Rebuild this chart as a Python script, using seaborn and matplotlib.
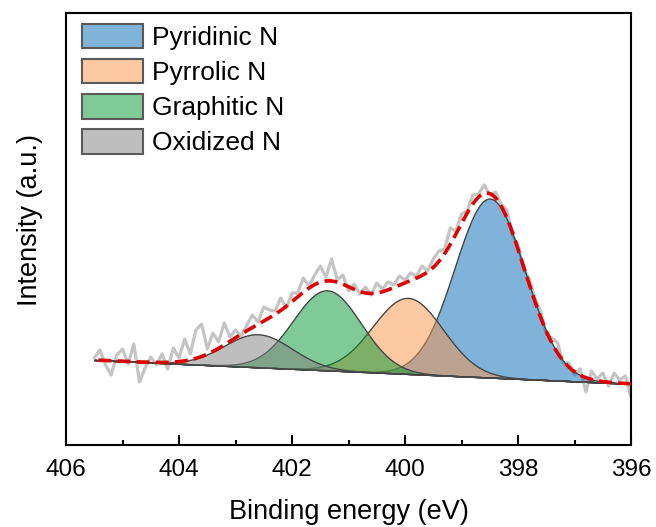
import numpy as np
import pandas as pd
import matplotlib
matplotlib.use("Agg")
import matplotlib.pyplot as plt
from matplotlib.colors import to_rgba
from matplotlib.patches import Patch
from matplotlib.ticker import MultipleLocator
import seaborn as sns

# N 1s spectrum, 0.1 eV steps from 405.5 down to 396.0 eV (a.u.)
energy_start, energy_stop, energy_step = 405.5, 396.0, 0.1
raw_counts = [
    87, 95, 80, 70, 90, 96, 81, 101, 63, 77,
    88, 80, 91, 76, 97, 87, 106, 91, 115, 121,
    96, 112, 103, 122, 108, 115, 109, 120, 130, 123,
    138, 135, 134, 147, 137, 152, 152, 167, 159, 170,
    179, 168, 186, 165, 170, 154, 161, 151, 158, 150,
    162, 156, 163, 160, 169, 165, 172, 169, 179, 174,
    186, 194, 196, 217, 214, 231, 234, 250, 251, 260,
    250, 253, 241, 235, 210, 200, 176, 166, 146, 134,
    111, 107, 102, 82, 82, 70, 76, 53, 74, 66,
    72, 59, 72, 65, 69, 48,
]

# Fitted components (Gaussian): centre (eV), height, FWHM (eV)
peak_names = ["Pyridinic N", "Pyrrolic N", "Graphitic N", "Oxidized N"]
peak_centers = [398.5, 399.95, 401.38, 402.6]
peak_heights = [179, 76, 80, 33]
peak_fwhm = [1.46, 1.46, 1.41, 1.41]
peak_colors = ["#0069b5", "#fb9547", "#009731", "#7f7f7f"]

# Linear background at the two ends of the fit window
background_ends = [85.0, 61.2]

n_points = int(round((energy_start - energy_stop) / energy_step)) + 1
energy = np.round(np.linspace(energy_start, energy_stop, n_points), 2)
spectrum = pd.DataFrame({"energy": energy, "counts": raw_counts})

fine = np.linspace(energy_start, energy_stop, 600)
background = np.interp(fine, [energy_stop, energy_start], background_ends[::-1])
components = []
for c, h, w in zip(peak_centers, peak_heights, peak_fwhm):
    sigma = w / (2.0 * np.sqrt(2.0 * np.log(2.0)))
    components.append(h * np.exp(-0.5 * ((fine - c) / sigma) ** 2))
envelope = background + np.sum(components, axis=0)
fit = pd.DataFrame({"energy": fine, "envelope": envelope})

sns.set_theme(style="ticks")
plt.rcParams["font.family"] = ["Liberation Sans", "Arial", "DejaVu Sans"]
plt.rcParams["text.color"] = "black"
plt.rcParams["axes.labelcolor"] = "black"
plt.rcParams["xtick.color"] = "black"
plt.rcParams["ytick.color"] = "black"

fig, ax = plt.subplots(figsize=(6.56, 5.27), dpi=100)
fig.subplots_adjust(left=0.1006, right=0.962, bottom=0.1556, top=0.9753)

sns.lineplot(data=spectrum, x="energy", y="counts", ax=ax, color="#c4c4c4",
             lw=2.3, estimator=None, zorder=1)

edge = (0.28, 0.28, 0.28, 1.0)
for comp, col in zip(components, peak_colors):
    ax.fill_between(fine, background, background + comp,
                    facecolor=to_rgba(col, 0.5), edgecolor=edge,
                    linewidth=1.0, zorder=2)

sns.lineplot(data=fit, x="energy", y="envelope", ax=ax, color="#e00000",
             lw=2.6, linestyle=(0, (3.6, 1.7)), estimator=None, zorder=3)

ax.set_xlim(406, 396)
ax.set_ylim(0, 432)
ax.set_xticks([406, 404, 402, 400, 398, 396])
ax.xaxis.set_minor_locator(MultipleLocator(1))
ax.set_yticks([])
ax.tick_params(axis="x", which="major", direction="in", length=7.5,
               width=1.5, labelsize=17.5, pad=10, top=False,
               color="black", labelcolor="black")
ax.tick_params(axis="x", which="minor", direction="in", length=3.5,
               width=1.5, top=False, color="black")
for side in ["left", "right", "top", "bottom"]:
    ax.spines[side].set_visible(True)
    ax.spines[side].set_linewidth(1.5)
    ax.spines[side].set_color("black")

ax.set_xlabel("Binding energy (eV)", fontsize=19.5, color="black")
ax.set_ylabel("Intensity (a.u.)", fontsize=19.5, color="black")
ax.xaxis.set_label_coords(0.5, -0.124)
ax.yaxis.set_label_coords(-0.041, 0.52)

handles = [Patch(facecolor=to_rgba(col, 0.5), edgecolor="#5a5a5a",
                 linewidth=1.5, label=name)
           for name, col in zip(peak_names, peak_colors)]
leg = ax.legend(handles=handles, loc="upper left",
                bbox_to_anchor=(0.028, 0.975), frameon=False, fontsize=19,
                handlelength=2.31, handleheight=1.06, labelspacing=0.33,
                handletextpad=0.34, borderpad=0, borderaxespad=0)
for t in leg.get_texts():
    t.set_color("black")

fig.savefig("out.png", dpi=100)
